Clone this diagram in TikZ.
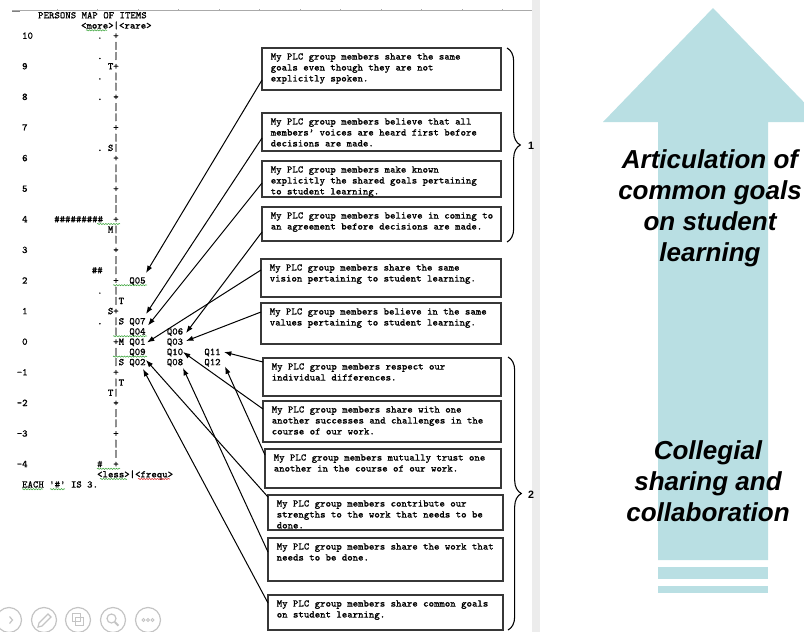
\documentclass[tikz,border=0pt]{standalone}
\usepackage{fontspec}
\setmainfont{Liberation Sans}
\newfontfamily\mapfont[FakeBold=0.6]{Latin Modern Mono}
\usetikzlibrary{arrows.meta,decorations.pathreplacing,decorations.pathmorphing,fit}

\definecolor{arrowblue}{RGB}{185,223,227}
\definecolor{boxline}{RGB}{55,55,55}
\definecolor{iconGray}{RGB}{196,196,196}
\definecolor{spellgreen}{RGB}{60,165,60}
\definecolor{spellred}{RGB}{225,40,40}
\definecolor{pageedge}{RGB}{236,236,236}
\definecolor{rulergray}{RGB}{170,170,170}

% one piece of the monospaced listing: column, row, text
\newcommand\mapat[3]{\node[maptext] (m#2c#1) at ({16.5+5.36*(#1)},{38.8+10.2*(#2)}) {#3};}
% spell-check underline: colour, x from, x to, y
\newcommand\squig[4]{\draw[squiggle,#1] (#2,#4) -- (#3,#4);}
% framed item statement: name, corner, corner, text
\newcommand\itembox[4]{%
  \node[itembox, fit={#2 #3}] (#1) {};
  \begin{scope}
    \clip (#1.north west) rectangle (#1.south east);
    \node[boxtext] (#1t) at ([shift={(8.5,5)}]#1.north west) {#4};
  \end{scope}}

\begin{document}
\begin{tikzpicture}[x=0.75pt,y=-0.75pt,
  maptext/.style={font=\mapfont\fontsize{7.66}{8.5}\selectfont, inner sep=0pt, anchor=base west, text=black},
  itembox/.style={draw=boxline, line width=0.9pt, inner sep=0pt, outer sep=0pt},
  boxtext/.style={font=\mapfont\fontsize{7.66}{8.2}\selectfont, align=left, anchor=north west, inner sep=0pt},
  conn/.style={draw=black, line width=0.75pt, -{Latex[length=5.5pt,width=4pt]}},
  bracket/.style={draw=black, decorate, decoration={brace, amplitude=10pt}, line width=0.8pt},
  bracelabel/.style={font=\bfseries\fontsize{8}{9}\selectfont, inner sep=0pt},
  squiggle/.style={decorate, decoration={snake, amplitude=0.45pt, segment length=2pt}, line width=0.4pt},
  bigtext/.style={font=\bfseries\itshape\fontsize{19.5}{23.25}\selectfont, align=center, inner sep=0pt},
  icon/.style={draw=iconGray, line width=0.9pt}
]
\useasboundingbox (0,0) rectangle (804,632);

% ---- window chrome: ruler and page edge ----
\fill[pageedge] (532,0) rectangle (540,632);
\draw[rulergray, line width=0.7pt] (12,10.5) -- (532,10.5);
\draw[gray, line width=1.2pt] (12,11.5) -- (20,11.5);
\foreach \i in {0,...,11} \draw[rulergray, line width=0.5pt] ({57+40.5*\i},9) -- ++(0,1.5);

% ---- big arrow on the right ----
\fill[arrowblue] (713,8) -- (823,122) -- (768,122) -- (768,560) -- (658,560) -- (658,122) -- (603,122) -- cycle;
\fill[arrowblue] (658,567) rectangle (768,579);
\fill[arrowblue] (658,586) rectangle (768,593);
\node[bigtext] (goals) at (710,208) {Articulation of\\common goals\\on student\\learning};
\node[bigtext] (collab) at (708,481) {Collegial\\sharing and\\collaboration};

% ---- persons map of items ----
\mapat{4}{-2}{PERSONS MAP OF ITEMS}
\mapat{12}{-1}{<more>|<rare>}
\mapat{1}{0}{10}\mapat{15}{0}{.}\mapat{18}{0}{+}
\mapat{18}{1}{|}
\mapat{15}{2}{.}\mapat{18}{2}{|}
\mapat{1}{3}{9}\mapat{17}{3}{T+}
\mapat{15}{4}{.}\mapat{18}{4}{|}
\mapat{18}{5}{|}
\mapat{1}{6}{8}\mapat{15}{6}{.}\mapat{18}{6}{+}
\mapat{18}{7}{|}
\mapat{18}{8}{|}
\mapat{1}{9}{7}\mapat{18}{9}{+}
\mapat{18}{10}{|}
\mapat{15}{11}{.}\mapat{17}{11}{S|}
\mapat{1}{12}{6}\mapat{18}{12}{+}
\mapat{18}{13}{|}
\mapat{18}{14}{|}
\mapat{1}{15}{5}\mapat{18}{15}{+}
\mapat{18}{16}{|}
\mapat{18}{17}{|}
\mapat{1}{18}{4}\mapat{7}{18}{\#\#\#\#\#\#\#\#\#}\mapat{18}{18}{+}
\mapat{17}{19}{M|}
\mapat{18}{20}{|}
\mapat{1}{21}{3}\mapat{18}{21}{+}
\mapat{18}{22}{|}
\mapat{14}{23}{\#\#}\mapat{18}{23}{|}
\mapat{1}{24}{2}\mapat{18}{24}{+}\mapat{21}{24}{Q05}
\mapat{15}{25}{.}\mapat{18}{25}{|}
\mapat{18}{26}{|T}
\mapat{1}{27}{1}\mapat{17}{27}{S+}
\mapat{15}{28}{.}\mapat{18}{28}{|S}\mapat{21}{28}{Q07}
\mapat{18}{29}{|}\mapat{21}{29}{Q04}\mapat{28}{29}{Q06}
\mapat{1}{30}{0}\mapat{18}{30}{+M}\mapat{21}{30}{Q01}\mapat{28}{30}{Q03}
\mapat{18}{31}{|}\mapat{21}{31}{Q09}\mapat{28}{31}{Q10}\mapat{35}{31}{Q11}
\mapat{18}{32}{|S}\mapat{21}{32}{Q02}\mapat{28}{32}{Q08}\mapat{35}{32}{Q12}
\mapat{0}{33}{-1}\mapat{18}{33}{+}
\mapat{18}{34}{|T}
\mapat{17}{35}{T|}
\mapat{0}{36}{-2}\mapat{18}{36}{+}
\mapat{18}{37}{|}
\mapat{18}{38}{|}
\mapat{0}{39}{-3}\mapat{18}{39}{+}
\mapat{18}{40}{|}
\mapat{18}{41}{|}
\mapat{0}{42}{-4}\mapat{15}{42}{\#}\mapat{18}{42}{+}
\mapat{15}{43}{<less>|<frequ>}
\mapat{1}{44}{EACH '\#' IS 3.}

% spell-check marks under the listing
\squig{spellgreen}{86}{107}{30.3}
\squig{spellgreen}{97}{120}{224}
\squig{spellgreen}{113}{147}{285.2}
\squig{spellgreen}{113}{147}{336.2}
\squig{spellgreen}{113}{147}{356.6}
\squig{spellgreen}{97}{120}{468.8}
\squig{spellgreen}{100}{127}{479}
\squig{spellred}{138}{170}{479}
\squig{spellgreen}{22}{43}{489.2}
\squig{spellgreen}{50}{65}{489.2}

% ---- item statements ----
\itembox{b1}{(262,48)}{(501,90)}{My PLC group members share the same\\goals even though they are not\\explicitly spoken.}
\itembox{b2}{(262,113)}{(501,151)}{My PLC group members believe that all\\members’ voices are heard first before\\decisions are made.}
\itembox{b3}{(262,161)}{(501,197)}{My PLC group members make known\\explicitly the shared goals pertaining\\to student learning.}
\itembox{b4}{(262,207)}{(501,241)}{My PLC group members believe in coming to\\an agreement before decisions are made.}
\itembox{b5}{(261,259)}{(501,297)}{My PLC group members share the same\\vision pertaining to student learning.}
\itembox{b6}{(261,303)}{(501,344)}{My PLC group members believe in the same\\values pertaining to student learning.}
\itembox{b7}{(263,358)}{(501,396)}{My PLC group members respect our\\individual differences.}
\itembox{b8}{(263,401)}{(501,442)}{My PLC group members share with one\\another successes and challenges in the\\course of our work.}
\itembox{b9}{(265,449)}{(501,488)}{My PLC group members mutually trust one\\another in the course of our work.}
\itembox{b10}{(268,495)}{(503,530)}{My PLC group members contribute our\\strengths to the work that needs to be\\done.}
\itembox{b11}{(268,538)}{(503,581)}{My PLC group members share the work that\\needs to be done.}
\itembox{b12}{(268,595)}{(503,630)}{My PLC group members share common goals\\on student learning.}

% ---- grouping braces ----
\draw[bracket] (507,48) -- (507,242);
\node[bracelabel] (g1) at (531,146) {1};
\draw[bracket] (508,357) -- (508,630);
\node[bracelabel] (g2) at (531,495) {2};

% ---- connectors: statement -> item position ----
\coordinate (s1) at (262,80);   \coordinate (t1) at (146,273);
\coordinate (s2) at (262,138);  \coordinate (t2) at (146,314);
\coordinate (s3) at (262,183);  \coordinate (t3) at (148,325.5);
\coordinate (s4) at (262,232);  \coordinate (t4) at (186,333);
\coordinate (s5) at (261,270);  \coordinate (t5) at (147,342.5);
\coordinate (s6) at (261,312);  \coordinate (t6) at (186,341);
\coordinate (s7) at (263,362);  \coordinate (t7) at (224,352);
\coordinate (s8) at (263,409);  \coordinate (t8) at (183,352);
\coordinate (s9) at (265,455);  \coordinate (t9) at (225,366.5);
\coordinate (s10) at (268,497); \coordinate (t10) at (146,360);
\coordinate (s11) at (268,552); \coordinate (t11) at (183,368);
\coordinate (s12) at (268,603); \coordinate (t12) at (143,369);
\foreach \k in {1,...,12} \draw[conn] (s\k) -- (t\k);

% ---- presenter toolbar ----
\draw[icon] (9,620) circle (12.5);
\draw[icon] (9.5,616.5) -- (12.5,620) -- (9.5,623.5);
\draw[icon] (44,620) circle (12.5);
\draw[icon] (38,627) -- (39,623) -- (48,614) -- (51,617) -- (42,626) -- cycle;
\draw[icon] (78,620) circle (12.5);
\draw[icon] (72.5,613.5) rectangle (80.5,621.5);
\draw[icon] (75.5,617.5) rectangle (83.5,625.5);
\draw[icon] (113,620) circle (12.5);
\draw[icon] (111.5,618.5) circle (4.5);
\draw[icon, line width=1.5pt] (114.8,622) -- (118.5,625.7);
\draw[icon] (148,620) circle (12.5);
\foreach \dx in {-4.5,0,4.5} \draw[icon, line width=0.6pt] ({148+\dx},620) circle (1.5);
\end{tikzpicture}
\end{document}
